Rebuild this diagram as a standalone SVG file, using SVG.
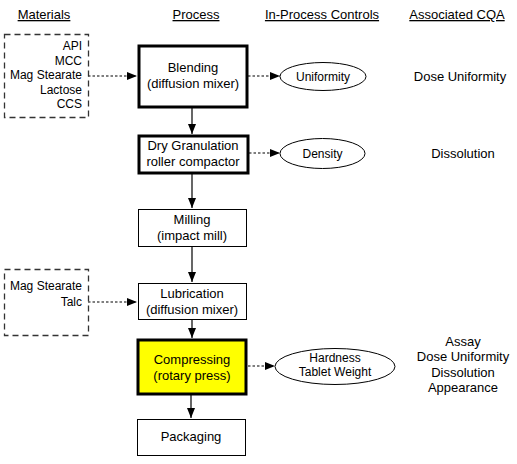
<svg xmlns="http://www.w3.org/2000/svg" width="517" height="464" viewBox="0 0 517 464">
<style>
text{font-family:"Liberation Sans",Arial,sans-serif;fill:#000}
.h{font-size:13px;text-anchor:middle;text-decoration:underline}
.m{font-size:12px;text-anchor:end}
.p{font-size:13px;text-anchor:middle}
.e{font-size:12px;text-anchor:middle}
.c{font-size:13px;text-anchor:middle}
.mat{fill:none;stroke:#333;stroke-width:1.3;stroke-dasharray:6 4}
.thick{fill:#fff;stroke:#000;stroke-width:3}
.thin{fill:#fff;stroke:#000;stroke-width:1}
.ell{fill:#fff;stroke:#000;stroke-width:1}
.solid{stroke:#000;stroke-width:1.2;fill:none;marker-end:url(#ah)}
.dash{stroke:#000;stroke-width:1.2;fill:none;stroke-dasharray:2.5 2;marker-end:url(#ah)}
</style>
<defs>
<marker id="ah" viewBox="0 0 10 8" refX="10" refY="4" markerWidth="10" markerHeight="8" markerUnits="userSpaceOnUse" orient="auto">
<path d="M0,0 L10,4 L0,8 Z" fill="#000"/>
</marker>
</defs>
<rect width="517" height="464" fill="#fff"/>
<g id="headers">
<text class="h" x="44" y="19">Materials</text>
<text class="h" x="196" y="19">Process</text>
<text class="h" x="322" y="19">In-Process Controls</text>
<text class="h" x="457" y="19">Associated CQA</text>
</g>
<g id="connectors">
<line class="dash" x1="88" y1="76" x2="137" y2="76"/>
<line class="dash" x1="88" y1="302" x2="137" y2="302"/>
<line class="dash" x1="248" y1="76" x2="280" y2="76"/>
<line class="dash" x1="249" y1="153" x2="280" y2="153"/>
<line class="dash" x1="248" y1="366" x2="275" y2="366"/>
<line class="solid" x1="192" y1="108" x2="192" y2="134"/>
<line class="solid" x1="192" y1="174" x2="192" y2="208"/>
<line class="solid" x1="192" y1="247" x2="192" y2="282"/>
<line class="solid" x1="192" y1="320" x2="192" y2="338"/>
<line class="solid" x1="191" y1="395" x2="191" y2="418"/>
</g>
<g id="materials1">
<rect class="mat" x="4.5" y="34.5" width="84" height="83"/>
<text class="m" x="82" y="50">API</text>
<text class="m" x="82" y="64.5">MCC</text>
<text class="m" x="82" y="79">Mag Stearate</text>
<text class="m" x="82" y="93.5">Lactose</text>
<text class="m" x="82" y="108">CCS</text>
</g>
<g id="materials2">
<rect class="mat" x="4.5" y="269.5" width="84" height="66"/>
<text class="m" x="82" y="290">Mag Stearate</text>
<text class="m" x="82" y="306">Talc</text>
</g>
<g id="blending">
<rect class="thick" x="139" y="46" width="108" height="61"/>
<text class="p" x="193" y="72">Blending</text>
<text class="p" x="193" y="88">(diffusion mixer)</text>
</g>
<g id="drygran">
<rect class="thick" x="139" y="136" width="109" height="37"/>
<text class="p" x="193" y="150">Dry Granulation</text>
<text class="p" x="193" y="166">roller compactor</text>
</g>
<g id="milling">
<rect class="thin" x="138.5" y="209.5" width="108" height="37"/>
<text class="p" x="192" y="224">Milling</text>
<text class="p" x="192" y="240">(impact mill)</text>
</g>
<g id="lubrication">
<rect class="thin" x="138.5" y="283.5" width="108" height="36"/>
<text class="p" x="192" y="298">Lubrication</text>
<text class="p" x="192" y="314">(diffusion mixer)</text>
</g>
<g id="compressing">
<rect x="138" y="340" width="108" height="54" fill="#ffff00" stroke="#000" stroke-width="3"/>
<text class="p" x="192" y="364">Compressing</text>
<text class="p" x="192" y="380">(rotary press)</text>
</g>
<g id="packaging">
<rect class="thin" x="137.5" y="419.5" width="108" height="36"/>
<text class="p" x="191" y="441">Packaging</text>
</g>
<g id="uniformity">
<ellipse class="ell" cx="323" cy="76.5" rx="43" ry="14"/>
<text class="e" x="323" y="81">Uniformity</text>
</g>
<g id="density">
<ellipse class="ell" cx="322.5" cy="153.5" rx="42.5" ry="15"/>
<text class="e" x="322.5" y="158">Density</text>
</g>
<g id="hardness">
<ellipse class="ell" cx="335" cy="366.5" rx="60" ry="18"/>
<text class="e" x="335" y="362">Hardness</text>
<text class="e" x="335" y="376">Tablet Weight</text>
</g>
<g id="cqa">
<text class="c" x="460" y="81">Dose Uniformity</text>
<text class="c" x="463" y="158">Dissolution</text>
<text class="c" x="463" y="346">Assay</text>
<text class="c" x="463" y="361">Dose Uniformity</text>
<text class="c" x="463" y="377">Dissolution</text>
<text class="c" x="463" y="392">Appearance</text>
</g>
</svg>
